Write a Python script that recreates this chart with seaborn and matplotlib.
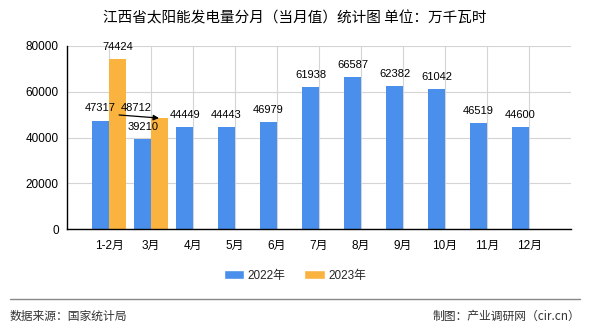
import matplotlib
matplotlib.use("Agg")
import matplotlib.pyplot as plt
import seaborn as sns
import pandas as pd
import numpy as np
from matplotlib.patches import Patch

categories = ["1-2月", "3月", "4月", "5月", "6月", "7月", "8月", "9月", "10月", "11月", "12月"]
values_2022 = [47317, 39210, 44449, 44443, 46979, 61938, 66587, 62382, 61042, 46519, 44600]
values_2023 = [74424, 48712, None, None, None, None, None, None, None, None, None]
series_names = ["2022年", "2023年"]
y_ticks = [0, 20000, 40000, 60000, 80000]

sns.set_theme(style="white")
plt.rcParams['font.family'] = ['Liberation Sans', 'Noto Sans CJK SC', 'DejaVu Sans']

colors = ["#4A8FEB", "#FBB33F"]

rows = []
for c, v in zip(categories, values_2022):
    rows.append({"月份": c, "值": v, "年份": series_names[0]})
for c, v in zip(categories, values_2023):
    rows.append({"月份": c, "值": np.nan if v is None else v, "年份": series_names[1]})
df = pd.DataFrame(rows)

fig = plt.figure(figsize=(5.9, 3.3), dpi=100)
ax = fig.add_axes([67/590, 1-229/330, (571-67)/590, (229-46)/330])

sns.barplot(data=df, x="月份", y="值", hue="年份", order=categories,
            hue_order=series_names, palette=colors, width=0.8, ax=ax,
            saturation=1, legend=False, linewidth=0, edgecolor="none")

ax.set_xlim(-1, 11)
ax.set_ylim(0, 80000)
ax.set_yticks(y_ticks)
ax.set_yticklabels([str(t) for t in y_ticks], fontsize=8.5)
ax.set_xticks(range(len(categories)))
ax.set_xticklabels(categories, fontsize=8.5)
ax.set_xlabel("")
ax.set_ylabel("")
ax.grid(True, axis="both", color="#d4d4d4", linewidth=0.8)
ax.set_axisbelow(True)
for s in ["top", "right"]:
    ax.spines[s].set_visible(False)
for s in ["left", "bottom"]:
    ax.spines[s].set_color("black")
    ax.spines[s].set_linewidth(1)
ax.tick_params(axis="both", direction="out", length=4, width=1, color="black", pad=2, labelcolor="black")
ax.tick_params(axis="x", pad=4)

# data labels (offsets in pixels; (series, index) -> offset)
special = {(0, 0): (0, 13), (1, 1): (-23, 10)}
for si, vals in enumerate([values_2022, values_2023]):
    for i, v in enumerate(vals):
        if v is None:
            continue
        x = i - 0.2 if si == 0 else i + 0.2
        off = special.get((si, i), (0, 12))
        ax.annotate(f"{v}", xy=(x, v), xytext=off, textcoords="offset pixels",
                    ha="center", va="center", fontsize=8, color="black")

# arrow from the 48712 label to its bar (3月 2023)
ax.annotate("", xy=(1.19, 48500), xytext=(0.24, 49840),
            arrowprops=dict(arrowstyle="-|>", color="black", lw=0.9, mutation_scale=8,
                            shrinkA=0, shrinkB=0))

# legend
handles = [Patch(facecolor=colors[0]), Patch(facecolor=colors[1])]
fig.legend(handles, series_names, loc="center", bbox_to_anchor=(0.5, 1-276/330),
           ncol=2, frameon=False, fontsize=8.5, handlelength=1.7, handleheight=0.8,
           columnspacing=1.6, handletextpad=0.3)

cjk = ['Noto Sans CJK SC', 'DejaVu Sans']
fig.text(0.5, 1-18/330, "江西省太阳能发电量分月（当月值）统计图 单位：万千瓦时",
         ha="center", va="center", fontsize=10.5, color="black", family=cjk)

fig.add_artist(plt.Line2D([10/590, 580/590], [1-299/330, 1-299/330], color="#888888", lw=1))
fig.text(10/590, 1-316/330, "数据来源：国家统计局", ha="left", va="center", fontsize=8.5,
         color="#333333", family=cjk)
fig.text(580/590, 1-316/330, "制图：产业调研网（cir.cn）", ha="right", va="center", fontsize=8.5,
         color="#333333", family=cjk)

fig.savefig("out.png", dpi=100)
